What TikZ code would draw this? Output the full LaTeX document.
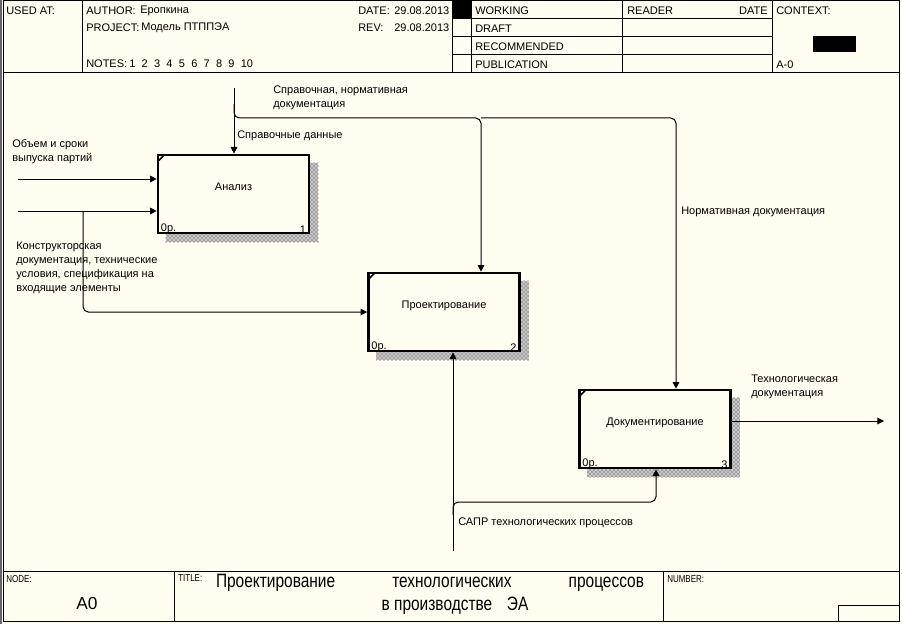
\documentclass[tikz,border=0pt]{standalone}
\usepackage{fontspec}
\setmainfont{Liberation Sans}
\newfontfamily\narrowfont[FakeStretch=0.8]{Liberation Sans}
\usetikzlibrary{arrows.meta, positioning, calc, patterns, backgrounds}
\definecolor{paper}{RGB}{255,252,240}
\tikzset{
  func/.style = {
    rectangle, draw=black, line width=2pt, fill=paper,
    minimum width=113.25pt, minimum height=58.5pt,
    text height=6pt, text depth=11.5pt,
    font=\fontsize{8.25}{10}\selectfont
  },
  shade/.style = {preaction={fill=black!22}, pattern=crosshatch dots, pattern color=black!85},
  num/.style = {inner xsep=3pt, inner ysep=0.5pt, font=\fontsize{8.25}{10}\selectfont},
  lbl/.style = {inner sep=0pt, align=left, font=\fontsize{8.25}{10.5}\selectfont},
  small/.style = {inner sep=0pt, font=\narrowfont\fontsize{7.5}{8}\selectfont},
  ttl/.style = {inner sep=0pt, font=\narrowfont\fontsize{14.5}{16}\selectfont},
  nodeno/.style = {inner sep=0pt, font=\fontsize{13}{15}\selectfont},
  myarrow/.style = {-{Triangle[length=5pt, width=5pt]}, line width=0.75pt},
  rule/.style = {line width=0.75pt}
}
\begin{document}
\begin{tikzpicture}[x=0.75pt, y=-0.75pt]
  \useasboundingbox (0,0) rectangle (902,624);
  % Form frame
  \draw[black!60, line width=1.2pt] (0.8,0) -- (0.8,624);
  \draw[rule] (3.5,1) rectangle (899,621);
  \draw[rule] (3.5,73) -- (899,73);
  \draw[rule] (3.5,571) -- (899,571);
  \draw[rule] (82,1) -- (82,73);
  \draw[rule] (452,1) -- (452,73);
  \draw[rule] (471.5,1) -- (471.5,73);
  \draw[rule] (622.5,1) -- (622.5,73);
  \draw[rule] (772,1) -- (772,73);
  \draw[rule] (452,19) -- (772,19);
  \draw[rule] (452,37) -- (772,37);
  \draw[rule] (452,55) -- (772,55);
  \fill[black] (452,1) rectangle (471.5,19);
  \fill[black] (813,36) rectangle (856,52);
  \draw[rule] (174,571) -- (174,621);
  \draw[rule] (663,571) -- (663,621);
  \draw[rule] (838,605) rectangle (899,621);
  % Header texts
  \node[lbl, anchor=west] (usedat)  at (6,11)   {USED AT:};
  \node[lbl, anchor=west] (author)  at (86,11)  {AUTHOR:};
  \node[lbl, anchor=west] (authorv) at (140,11) {Еропкина};
  \node[lbl, anchor=west] (project) at (86,28)  {PROJECT:};
  \node[lbl, anchor=west] (projv)   at (141,28) {Модель ПТППЭА};
  \node[lbl, anchor=west] (notes)   at (86,64)  {NOTES:};
  \foreach \n in {1,...,10}
    \node[lbl, anchor=west] (note\n) at ({129+12.4*(\n-1)},64) {\n};
  \node[lbl, anchor=west] (date)    at (358,11) {DATE:};
  \node[lbl, anchor=west] (datev)   at (394,11) {29.08.2013};
  \node[lbl, anchor=west] (rev)     at (358,28) {REV:};
  \node[lbl, anchor=west] (revv)    at (394,28) {29.08.2013};
  \node[lbl, anchor=west] (working) at (475,11) {WORKING};
  \node[lbl, anchor=west] (draft)   at (475,29) {DRAFT};
  \node[lbl, anchor=west] (recomm)  at (475,47) {RECOMMENDED};
  \node[lbl, anchor=west] (public)  at (475,65) {PUBLICATION};
  \node[lbl, anchor=west] (reader)  at (627,11) {READER};
  \node[lbl, anchor=east] (rdate)   at (768,11) {DATE};
  \node[lbl, anchor=west] (context) at (776,11) {CONTEXT:};
  \node[lbl, anchor=west] (ctxnum)  at (776,65) {A-0};
  % Footer texts
  \node[small, anchor=west] (node)   at (6,579)   {NODE:};
  \node[small, anchor=west] (title)  at (178,578) {TITLE:};
  \node[small, anchor=west] (number) at (667,579) {NUMBER:};
  \node[nodeno] (nodev) at (87,604) {A0};
  \node[ttl] (ttl1) at (430,583)
    {\makebox[321pt][s]{Проектирование технологических процессов}};
  \node[ttl] (ttl2) at (455,606) {в производстве\hspace{11pt}ЭА};
  % Function boxes
  \node[func] (an) at (233.5,194) {Анализ};
  \node[func] (pr) at (444,312)   {Проектирование};
  \node[func] (dc) at (655,429)   {Документирование};
  \begin{scope}[on background layer]
    \fill[paper] (0,0) rectangle (902,624);
    \foreach \b in {an,pr,dc}
      \fill[shade] ($(\b.north west)+(9,9)$) rectangle ($(\b.south east)+(8,8)$);
  \end{scope}
  \foreach \b/\k in {an/1,pr/2,dc/3} {
    \draw[line width=1.2pt] ($(\b.north west)+(1,8)$) -- ($(\b.north west)+(8,1)$);
    \node[num, anchor=south west] (\b0) at (\b.south west) {0р.};
    \node[num, anchor=south east] (\b n) at (\b.south east) {\k};
  }
  % Inputs
  \coordinate (in1) at (18,179);
  \coordinate (in2) at (18,211);
  \coordinate (br)  at (83,211);
  \draw[myarrow] (in1) -- (in1 -| an.west);
  \draw[myarrow] (in2) -- (in2 -| an.west);
  \draw[myarrow, rounded corners=4] (br) |- (pr.west);
  % Controls
  \coordinate (ctl) at (234,88);
  \coordinate (cbr) at (234,104);
  \coordinate (c2)  at (481,118);
  \coordinate (c3)  at (676,118);
  \draw[myarrow] (ctl) -- (ctl |- an.north);
  \draw[myarrow, rounded corners=4] (cbr) |- (c2) -- (c2 |- pr.north);
  \draw[myarrow, rounded corners=4] (c2) -| (c3 |- dc.north);
  % Mechanisms
  \coordinate (mech) at (453,551);
  \coordinate (mbr)  at (453,515);
  \coordinate (m3)   at (656,502);
  \draw[myarrow] (mech) -- (mech |- pr.south);
  \draw[myarrow, rounded corners=4] (mbr) |- (m3) -- (m3 |- dc.south);
  % Output
  \coordinate (out) at (884,421);
  \draw[myarrow] (out -| dc.east) -- (out);
  % Arrow labels
  \node[lbl, anchor=north west] (lvol)  at (12,139)  {Объем и сроки\\выпуска партий};
  \node[lbl, anchor=north west] (ldoc)  at (16,242)
    {Конструкторская\\документация, технические\\условия, спецификация на\\входящие элементы};
  \node[lbl, anchor=north west] (lctl)  at (273,86)  {Справочная, нормативная\\документация};
  \node[lbl, anchor=west]       (lref)  at (237,136) {Справочные данные};
  \node[lbl, anchor=west]       (lnorm) at (681,212) {Нормативная документация};
  \node[lbl, anchor=north west] (lout)  at (751,375) {Технологическая\\документация};
  \node[lbl, anchor=west]       (lmech) at (458,523) {САПР технологических процессов};
\end{tikzpicture}
\end{document}
